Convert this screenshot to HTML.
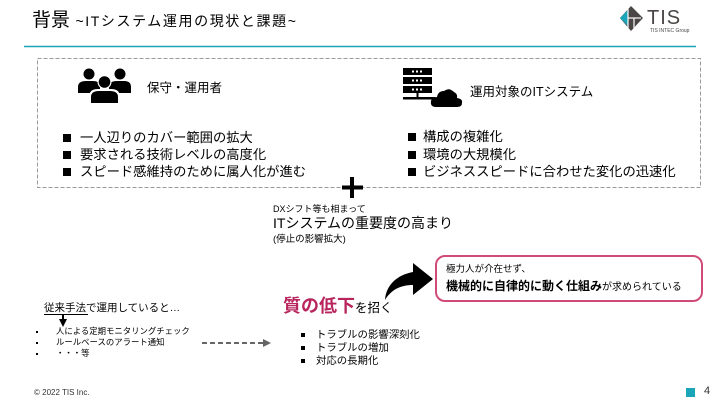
<!DOCTYPE html>
<html><head><meta charset="utf-8">
<style>
html,body{margin:0;padding:0;background:#fff;}
body{width:720px;height:405px;position:relative;overflow:hidden;font-family:"Liberation Sans","Noto Sans CJK JP",sans-serif;color:#000;}
.t{position:absolute;white-space:nowrap;line-height:1;}
.sq{display:inline-block;background:#000;}
</style></head><body>
<svg width="720" height="405" style="position:absolute;left:0;top:0">
  <line x1="24" y1="46.5" x2="696" y2="46.5" stroke="#1aa6b8" stroke-width="1.5"/>
  <rect x="37.5" y="58.5" width="663" height="129" fill="none" stroke="#9a9a9a" stroke-width="1" stroke-dasharray="4 2"/>
  <!-- logo -->
  <polygon points="620,18 631,6 643,18 631,31" fill="#4a4646"/>
  <polygon points="620,18 628,10 628,26" fill="#1aa6b8"/>
  <line x1="628" y1="9" x2="628" y2="28" stroke="#fff" stroke-width="1.2"/>
  <line x1="628" y1="18" x2="641" y2="18" stroke="#fff" stroke-width="1.2"/>
  <line x1="634" y1="18" x2="634" y2="28" stroke="#fff" stroke-width="1.2"/>
  <!-- people icon -->
  <circle cx="89" cy="74" r="5.5" fill="#000"/>
  <circle cx="120" cy="74" r="5.5" fill="#000"/>
  <path d="M78,93 L78,87 Q78,81 86,81 L93,81 Q100,81 100,87 L100,93 Z" fill="#000"/>
  <path d="M109,93 L109,87 Q109,81 117,81 L124,81 Q131,81 131,87 L131,93 Z" fill="#000"/>
  <circle cx="104.5" cy="82" r="7" fill="#fff"/>
  <circle cx="104.5" cy="82" r="5.8" fill="#000"/>
  <path d="M89,104 L89,97 Q89,89 98,89 L111,89 Q120,89 120,97 L120,104 Z" fill="#fff"/>
  <path d="M91,103 L91,97 Q91,91 99,91 L110,91 Q118,91 118,97 L118,103 Z" fill="#000"/>
  <!-- server icon -->
  <rect x="403" y="68" width="29" height="7" fill="#000"/>
  <rect x="403" y="77" width="29" height="7" fill="#000"/>
  <rect x="403" y="86" width="29" height="7" fill="#000"/>
  <rect x="412" y="70.5" width="2" height="2" fill="#fff"/><rect x="416" y="70.5" width="2" height="2" fill="#fff"/><rect x="420" y="70.5" width="2" height="2" fill="#fff"/>
  <rect x="412" y="79.5" width="2" height="2" fill="#fff"/><rect x="416" y="79.5" width="2" height="2" fill="#fff"/><rect x="420" y="79.5" width="2" height="2" fill="#fff"/>
  <rect x="412" y="88.5" width="2" height="2" fill="#fff"/><rect x="416" y="88.5" width="2" height="2" fill="#fff"/><rect x="420" y="88.5" width="2" height="2" fill="#fff"/>
  <rect x="416.5" y="93" width="2" height="5" fill="#000"/>
  <rect x="403" y="97" width="32" height="2.5" fill="#000"/>
  <path d="M436,107 Q430,107 431,101 Q432,97 437,97 Q438,91 444,91 Q449,87 454,92 Q458,94 457,98 Q463,99 462,103 Q462,107 457,107 Z" fill="#000"/>
  <!-- plus -->
  <rect x="350" y="177" width="4" height="21" fill="#000"/>
  <rect x="342" y="185.5" width="21" height="4" fill="#000"/>
  <!-- pink box -->
  <rect x="436" y="256" width="266" height="45" rx="9" ry="9" fill="#fff" stroke="#d14b78" stroke-width="2"/>
  <!-- curved arrow -->
  <path d="M385,300 C386,285 397,275 413,272 L413,263 L433,279 L413,295 L413,285 C400,285 391,290 385,300 Z" fill="#000"/>
  <!-- down arrow -->
  <rect x="62" y="314" width="2" height="7" fill="#000"/>
  <polygon points="59,319 67,319 63,327" fill="#000"/>
  <!-- dashed arrow -->
  <line x1="202" y1="343" x2="264" y2="343" stroke="#666" stroke-width="2" stroke-dasharray="5 3"/>
  <polygon points="263,339 271,343 263,347" fill="#666"/>
  <!-- underline -->
  <line x1="44" y1="314.5" x2="88" y2="314.5" stroke="#000" stroke-width="1"/>
  <!-- footer square -->
  <rect x="686" y="388" width="9" height="9" fill="#1aa6b8"/>
</svg>

<div class="t" style="left:32px;top:11px;"><span style="font-size:19px;">背景</span><span style="font-size:14px;letter-spacing:1.6px;"> ~ITシステム運用の現状と課題~</span></div>
<div class="t" style="left:647px;top:8px;font-size:20px;color:#4a4646;letter-spacing:1px;">TIS</div>
<div class="t" style="left:650px;top:29px;font-size:5px;color:#4a4646;">TIS INTEC Group</div>

<div class="t" style="left:147px;top:82px;font-size:12.5px;">保守・運用者</div>
<div class="t" style="left:470px;top:86px;font-size:12.5px;">運用対象のITシステム</div>

<div class="t" style="left:63px;top:129px;font-size:13.3px;line-height:17px;">
<div><span class="sq" style="width:8px;height:8px;margin-right:9px;"></span>一人辺りのカバー範囲の拡大</div>
<div><span class="sq" style="width:8px;height:8px;margin-right:9px;"></span>要求される技術レベルの高度化</div>
<div><span class="sq" style="width:8px;height:8px;margin-right:9px;"></span>スピード感維持のために属人化が進む</div>
</div>
<div class="t" style="left:408px;top:128px;font-size:13.3px;line-height:17.5px;">
<div><span class="sq" style="width:8px;height:8px;margin-right:7px;"></span>構成の複雑化</div>
<div><span class="sq" style="width:8px;height:8px;margin-right:7px;"></span>環境の大規模化</div>
<div><span class="sq" style="width:8px;height:8px;margin-right:7px;"></span>ビジネススピードに合わせた変化の迅速化</div>
</div>

<div class="t" style="left:273px;top:205px;font-size:9px;">DXシフト等も相まって</div>
<div class="t" style="left:273px;top:216px;font-size:14px;">ITシステムの重要度の高まり</div>
<div class="t" style="left:273px;top:235px;font-size:9.5px;">(停止の影響拡大)</div>

<div class="t" style="left:446px;top:265px;font-size:9.5px;">極力人が介在せず、</div>
<div class="t" style="left:446px;top:278px;"><span style="font-size:12px;font-weight:bold;">機械的に自律的に動く仕組み</span><span style="font-size:10px;">が求められている</span></div>

<div class="t" style="left:283px;top:297px;"><span style="font-size:18px;font-weight:bold;color:#b8255c;">質の低下</span><span style="font-size:12.5px;">を招く</span></div>

<div class="t" style="left:301px;top:329px;font-size:10.4px;line-height:13px;">
<div><span class="sq" style="width:4px;height:4px;margin-right:11px;vertical-align:middle;"></span>トラブルの影響深刻化</div>
<div><span class="sq" style="width:4px;height:4px;margin-right:11px;vertical-align:middle;"></span>トラブルの増加</div>
<div><span class="sq" style="width:4px;height:4px;margin-right:11px;vertical-align:middle;"></span>対応の長期化</div>
</div>

<div class="t" style="left:44px;top:303px;font-size:10.5px;">従来手法で運用していると…</div>
<div class="t" style="left:36px;top:326px;font-size:8.4px;line-height:11px;">
<div><span class="sq" style="width:2px;height:2px;margin-right:18px;vertical-align:middle;"></span>人による定期モニタリングチェック</div>
<div><span class="sq" style="width:2px;height:2px;margin-right:18px;vertical-align:middle;"></span>ルールベースのアラート通知</div>
<div><span class="sq" style="width:2px;height:2px;margin-right:18px;vertical-align:middle;"></span>・・・等</div>
</div>

<div class="t" style="left:34px;top:389px;font-size:8px;color:#333;">© 2022 TIS Inc.</div>
<div class="t" style="left:704px;top:386px;font-size:11px;color:#333;">4</div>
</body></html>
